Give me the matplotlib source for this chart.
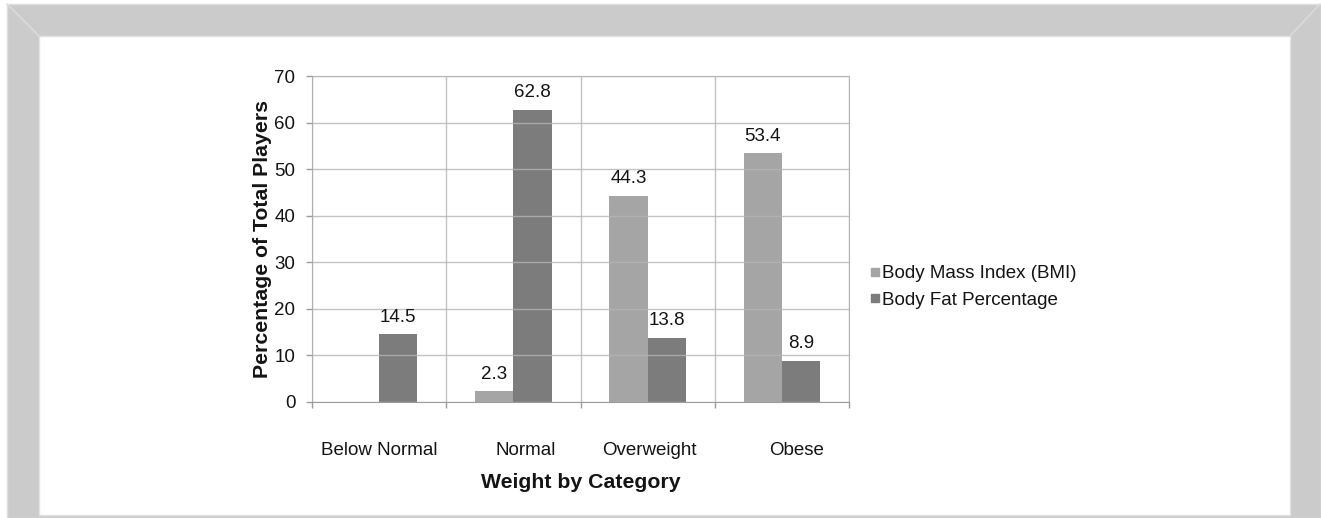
import numpy as np
import matplotlib.pyplot as plt
from matplotlib.patches import Rectangle
from matplotlib.lines import Line2D
from matplotlib.transforms import ScaledTranslation

plt.rcParams['font.family'] = ['Liberation Sans', 'DejaVu Sans']

categories = ["Below Normal", "Normal", "Overweight", "Obese"]
bmi = [np.nan, 2.3, 44.3, 53.4]
body_fat = [14.5, 62.8, 13.8, 8.9]
series_names = ["Body Mass Index (BMI)", "Body Fat Percentage"]
yticks = [0, 10, 20, 30, 40, 50, 60, 70]

W, H = 1321, 518
fig = plt.figure(figsize=(W / 100, H / 100), dpi=100)
txt_c = '#141414'

# picture-frame border: grey band with a white mat inside
def px(x, y):
    return x / W, 1 - y / H

fig.patches.append(Rectangle(px(7, 518), (1321 - 7) / W, (518 - 4) / H,
                             transform=fig.transFigure, facecolor='#cbcbcb',
                             edgecolor='#dedede', lw=1, zorder=0))
fig.patches.append(Rectangle(px(39, 515), (1290 - 39) / W, (515 - 36) / H,
                             transform=fig.transFigure, facecolor='white',
                             edgecolor='#e2e2e2', lw=1, zorder=0))
for (x0, y0), (x1, y1) in [((7, 4), (39, 36)), ((1320, 4), (1290, 36))]:
    a, b = px(x0, y0)
    c, d = px(x1, y1)
    fig.add_artist(Line2D([a, c], [b, d], transform=fig.transFigure,
                          color='#dcdcdc', lw=1, zorder=1))

ax = fig.add_axes([312 / W, 1 - 402 / H, (849 - 312) / W, (402 - 76) / H])
ax.set_zorder(2)
ax.set_facecolor('none')

x = np.arange(len(categories))
bw = 0.284
c_bmi, c_bf = '#a5a5a5', '#7c7c7c'
bars1 = ax.bar(x - bw / 2, bmi, bw, color=c_bmi, zorder=2)
bars2 = ax.bar(x + bw / 2, body_fat, bw, color=c_bf, zorder=2)

for xs, vals in [(x - bw / 2, bmi), (x + bw / 2, body_fat)]:
    for xi, v in zip(xs, vals):
        if np.isnan(v):
            continue
        ax.annotate(f"{v:.1f}", (xi, v), xytext=(0, 6), textcoords='offset points',
                    ha='center', va='bottom', fontsize=13.5, color=txt_c)

ax.set_xlim(-0.5, 3.5)
ax.set_ylim(0, 70)
ax.set_yticks(yticks)
ax.set_xticks(x)
ax.set_xticklabels(categories)
ax.set_xticks(np.arange(-0.5, 4.0, 1.0), minor=True)

grid_c = '#b5b5b5'
ax.grid(axis='y', which='major', color=grid_c, lw=1, alpha=0.8, zorder=3)
ax.grid(axis='x', which='minor', color=grid_c, lw=1, alpha=0.8, zorder=3)
ax.grid(axis='x', which='major', visible=False)
ax.set_axisbelow(False)

for side in ['top', 'right']:
    ax.spines[side].set_color(grid_c)
for side in ['left', 'bottom']:
    ax.spines[side].set_color('#9c9c9c')

ax.tick_params(axis='y', length=4, width=1, color='#9c9c9c', pad=8,
               labelsize=13.5, labelcolor=txt_c)
ax.tick_params(axis='x', which='major', length=0, pad=29,
               labelsize=13.5, labelcolor=txt_c)
ax.tick_params(axis='x', which='minor', length=4, width=1, color='#9c9c9c',
               direction='out')

# category labels sit slightly right of the group centres
for lab, dx in zip(ax.get_xticklabels(), [0, 12, 2, 15]):
    lab.set_transform(lab.get_transform() + ScaledTranslation(dx / 100, 0, fig.dpi_scale_trans))

ax.set_xlabel("Weight by Category", fontsize=15.3, fontweight='bold',
              color=txt_c, labelpad=10)
ax.set_ylabel("Percentage of Total Players", fontsize=15.3, fontweight='bold',
              color=txt_c, labelpad=2)

handles = [Line2D([], [], marker='s', ls='none', markersize=5.2, color=c)
           for c in (c_bmi, c_bf)]
leg = fig.legend(handles, series_names, loc='center left',
                 bbox_to_anchor=(870 / W, 1 - 287 / H), frameon=False,
                 fontsize=13.5, handlelength=0.5, handletextpad=0.15,
                 labelspacing=0.5, borderpad=0, borderaxespad=0,
                 labelcolor=txt_c)
leg.set_zorder(3)

fig.savefig("out.png", dpi=100)
